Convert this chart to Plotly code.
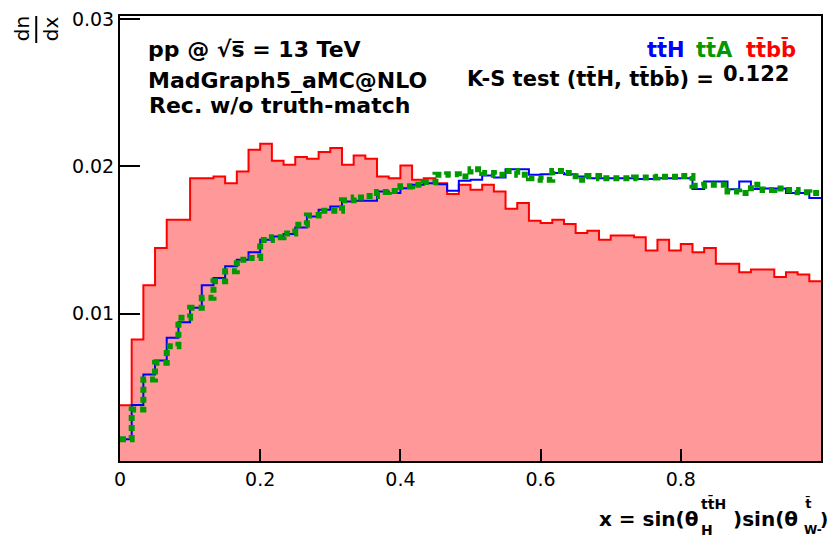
import plotly.graph_objects as go

# Binning: 60 equal bins on [0, 1]
n_bins = 60
bin_edges = [i / n_bins for i in range(n_bins + 1)]

# Normalised distributions dn/dx per bin
tth = [
    0.00147, 0.00380, 0.00588, 0.00683, 0.00837, 0.00942, 0.01040, 0.01193, 0.01243, 0.01322,
    0.01367, 0.01417, 0.01503, 0.01525, 0.01542, 0.01586, 0.01660, 0.01706, 0.01729, 0.01763,
    0.01767, 0.01767, 0.01831, 0.01820, 0.01853, 0.01876, 0.01887, 0.01880, 0.01835, 0.01903,
    0.01910, 0.01939, 0.01925, 0.01982, 0.01982, 0.01944, 0.01948, 0.01955, 0.01948, 0.01932,
    0.01921, 0.01921, 0.01920, 0.01920, 0.01915, 0.01915, 0.01920, 0.01920, 0.01920, 0.01847,
    0.01898, 0.01898, 0.01845, 0.01898, 0.01847, 0.01850, 0.01850, 0.01820, 0.01820, 0.01786,
]
tta = [
    0.00147, 0.00350, 0.00554, 0.00667, 0.00780, 0.00972, 0.01040, 0.01108, 0.01220, 0.01288,
    0.01367, 0.01379, 0.01500, 0.01520, 0.01545, 0.01605, 0.01668, 0.01700, 0.01700, 0.01770,
    0.01790, 0.01800, 0.01826, 0.01833, 0.01865, 0.01876, 0.01894, 0.01944, 0.01948, 0.01932,
    0.01982, 0.01955, 0.01944, 0.01970, 0.01944, 0.01921, 0.01910, 0.01970, 0.01955, 0.01910,
    0.01935, 0.01921, 0.01921, 0.01921, 0.01925, 0.01925, 0.01930, 0.01930, 0.01935, 0.01870,
    0.01876, 0.01876, 0.01830, 0.01820, 0.01876, 0.01840, 0.01850, 0.01840, 0.01825, 0.01820,
]
ttbb = [
    0.00378, 0.00825, 0.01193, 0.01447, 0.01639, 0.01639, 0.01921, 0.01921, 0.01932, 0.01887,
    0.01966, 0.02113, 0.02154, 0.02039, 0.02011, 0.02064, 0.02052, 0.02098, 0.02125, 0.02011,
    0.02075, 0.02052, 0.01932, 0.01921, 0.02007, 0.01910, 0.01921, 0.01887, 0.01813, 0.01876,
    0.01842, 0.01876, 0.01831, 0.01713, 0.01752, 0.01632, 0.01616, 0.01639, 0.01610, 0.01548,
    0.01564, 0.01503, 0.01532, 0.01532, 0.01519, 0.01430, 0.01503, 0.01430, 0.01474, 0.01417,
    0.01447, 0.01340, 0.01340, 0.01281, 0.01300, 0.01300, 0.01250, 0.01281, 0.01266, 0.01220,
]

x_ticks = [0, 0.2, 0.4, 0.6, 0.8, 1.0]
x_tick_labels = ["0", "0.2", "0.4", "0.6", "0.8", "1"]
y_ticks = [0.01, 0.02, 0.03]
y_tick_labels = ["0.01", "0.02", "0.03"]
ks_value = 0.122

RED, BLUE, GREEN = "#ff0000", "#0000ff", "#009900"
FONT = "DejaVu Sans"


def step_y(vals):
    return list(vals) + [vals[-1]]


fig = go.Figure()
fig.add_trace(go.Scatter(
    x=bin_edges, y=step_y(ttbb), mode="lines",
    line=dict(shape="hv", color=RED, width=2),
    fill="tozeroy", fillcolor="#ff9999", showlegend=False,
))
fig.add_trace(go.Scatter(
    x=bin_edges, y=step_y(tth), mode="lines",
    line=dict(shape="hv", color=BLUE, width=2), showlegend=False,
))
fig.add_trace(go.Scatter(
    x=bin_edges, y=step_y(tta), mode="lines",
    line=dict(shape="hv", color=GREEN, width=6, dash="6px,4px"), showlegend=False,
))

# plot frame in pixels: x 120..823, y 16..461
L, R, T, B = 120, 823, 16, 461


def px(x):
    return (x - L) / (R - L)


def py(y):
    return (B - y) / (B - T)


def label(text, x, y, size=22, color="black", bold=True, xanchor="left", angle=0):
    t = f"<b>{text}</b>" if bold else text
    fig.add_annotation(
        text=t, x=px(x), y=py(y), xref="paper", yref="paper",
        xanchor=xanchor, yanchor="middle", showarrow=False, textangle=angle,
        font=dict(family=FONT, size=size, color=color),
    )


label("pp @ √s̅ = 13 TeV", 146, 50)
label("MadGraph5_aMC@NLO", 146, 80)
label("Rec. w/o truth-match", 147, 105.5)
label("tt̄H", 646, 49, size=21, color=BLUE)
label("tt̄A", 696, 49, size=21, color=GREEN)
label("tt̄bb̄", 746, 49, size=21, color=RED)
label("K-S test (tt̄H, tt̄bb̄) =", 466, 79, size=21)
label(f"{ks_value:.3f}", 793, 74, size=21, xanchor="right")

# x-axis title with stacked super/subscripts
label("x = sin(θ", 598, 519, size=20)
label("tt̄H", 701, 503, size=14)
label("H", 701, 530, size=14)
label(")sin(θ", 733, 519, size=20)
label("t̄", 805, 503, size=13)
label("W-", 804, 530, size=12)
label(")", 820, 519, size=18)

# rotated y-axis title dn/dx
label("dn", 22, 29, size=20, bold=False, xanchor="center", angle=-90)
label("dx", 51, 29, size=20, bold=False, xanchor="center", angle=-90)
fig.add_shape(type="line", xref="paper", yref="paper",
              x0=px(36), x1=px(36), y0=py(16), y1=py(43),
              line=dict(color="black", width=2))

axis_common = dict(
    showline=True, linecolor="black", linewidth=2, mirror=True,
    ticks="inside", tickwidth=2, tickcolor="black",
    showgrid=False, zeroline=False,
    tickfont=dict(family=FONT, size=19, color="black"),
)
fig.update_xaxes(range=[0, 1], tickvals=x_ticks, ticktext=x_tick_labels, ticklen=12, **axis_common)
fig.update_yaxes(range=[0, 0.03022], tickvals=y_ticks, ticktext=y_tick_labels, ticklen=20, **axis_common)

fig.update_layout(
    width=827, height=537,
    margin=dict(l=L, r=827 - R, t=T, b=537 - B),
    plot_bgcolor="white", paper_bgcolor="white",
    showlegend=False,
)

fig.write_html("out.html")
